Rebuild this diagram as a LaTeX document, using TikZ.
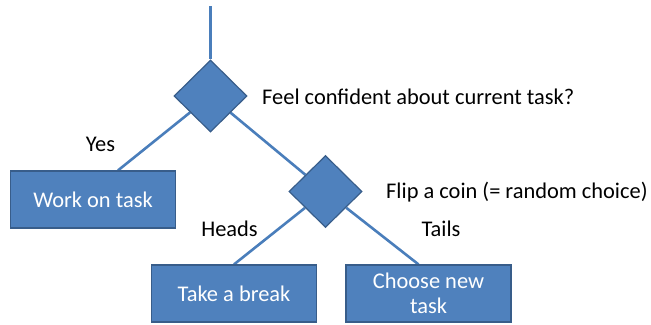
\documentclass[tikz,border=0pt]{standalone}
\usepackage{fontspec}
\setmainfont{Carlito}
\usetikzlibrary{shapes,positioning,backgrounds,calc}

\definecolor{boxblue}{HTML}{4F81BD}
\definecolor{edgeblue}{HTML}{385D8A}
\definecolor{lineblue}{HTML}{4A7EBB}

\tikzset{
  decision/.style={diamond, fill=boxblue, draw=edgeblue, line width=1.2bp,
    minimum width=73bp, minimum height=72bp, inner sep=0pt},
  action/.style={rectangle, fill=boxblue, draw=edgeblue, line width=1.2bp,
    minimum width=165bp, minimum height=57bp, text=white, align=center,
    font=\fontsize{22.5}{25}\selectfont},
  branch/.style={draw=lineblue, line width=2.6bp},
  note/.style={text=black, font=\fontsize{22.5}{25}\selectfont, inner sep=0pt}
}

\begin{document}
\begin{tikzpicture}[x=1bp, y=-1bp]
  \useasboundingbox (0,0) rectangle (651,324);
  %decisions
  \coordinate (top) at (210.5,6);
  \node [decision] (d1) at (210.5,96) {};
  \node [decision] (d2) at (325.5,191.5) {};
  %actions
  \node [action] (work) at (93,199.5) {Work on task};
  \node [action] (break) at (234,293.5) {Take a break};
  \node [action] (choose) at (428.5,293.5) {Choose new\\task};
  %labels
  \node [note, anchor=west] (q1) at (262,97) {Feel confident about current task?};
  \node [note, anchor=west] (q2) at (386,192) {Flip a coin (= random choice)};
  \node [note] (yes) at (100.5,144) {Yes};
  \node [note] (heads) at (229.5,229) {Heads};
  \node [note] (tails) at (441,229) {Tails};
  \begin{scope}[on background layer]
    \draw [branch] (top) -- (d1);
    \draw [branch] (d1) -- ($(work.north)+(25,0)$);
    \draw [branch] (d1) -- (d2);
    \draw [branch] (d2) -- (break.north);
    \draw [branch] (d2) -- ($(choose.north)+(-10,0)$);
  \end{scope}
\end{tikzpicture}
\end{document}
